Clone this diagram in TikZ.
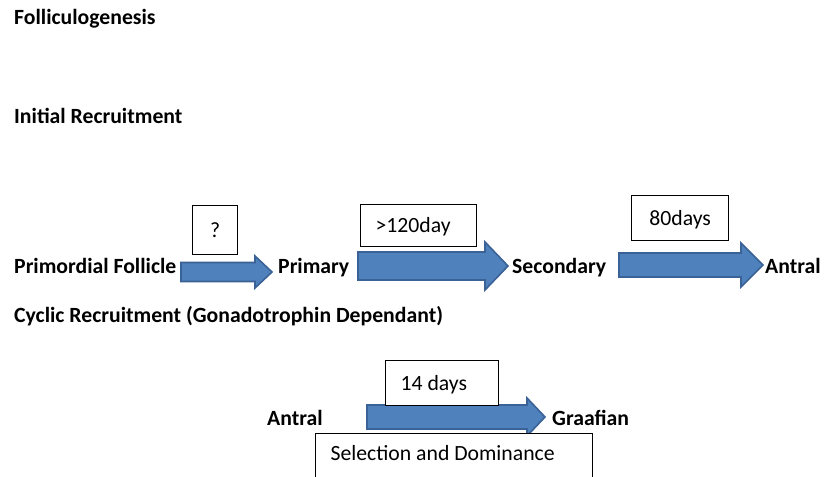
\documentclass[tikz,border=0pt]{standalone}
\usepackage{fontspec}
\setmainfont{Carlito}
\definecolor{arrowfill}{HTML}{4F81BD}
\definecolor{arrowline}{HTML}{3A6296}
\newcommand\blockarr[6]{% x1, xhead, xtip, ycenter, shaft half, head half
  \draw[blockarrow] (#1,{#4-#5}) -- (#2,{#4-#5}) -- (#2,{#4-#6}) -- (#3,#4)
    -- (#2,{#4+#6}) -- (#2,{#4+#5}) -- (#1,{#4+#5}) -- cycle;}
\begin{document}
\begin{tikzpicture}[x=1bp,y=-1bp,
  every node/.style={font=\fontsize{21.8}{25}\selectfont},
  lbl/.style={anchor=base west, inner sep=0pt, font=\fontsize{21.8}{25}\selectfont\bfseries},
  blockarrow/.style={fill=arrowfill, draw=arrowline, line width=1.6bp, line join=miter},
  box/.style={draw=black, fill=white, line width=1.2bp, anchor=north west,
    text height=14bp, text depth=0bp, inner xsep=15bp, inner ysep=0bp},
]
\useasboundingbox (0,0) rectangle (824,477);
\clip (0,0) rectangle (824,477);
\fill[white] (0,0) rectangle (824,477);

\node[lbl] (title) at (14,25) {Folliculogenesis};
\node[lbl] (initrec) at (14,124) {Initial Recruitment};

\node[lbl] (pf) at (14,274) {Primordial Follicle};
\node[lbl] (primary) at (278,274) {Primary};
\node[lbl] (secondary) at (512,274) {Secondary};
\node[lbl] (antral1) at (765,274) {Antral};

\node[lbl] (cyclic) at (14,323) {Cyclic Recruitment (Gonadotrophin Dependant)};

\node[lbl] (antral2) at (267,425) {Antral};
\node[lbl] (graafian) at (552,425) {Graafian};

% block arrows
\blockarr{181}{255}{272}{272}{9.5}{16}
\blockarr{358}{485}{508}{266}{14}{24}
\blockarr{619}{741}{763}{265}{12}{22}
\blockarr{367}{527}{545}{417}{12}{19}

% boxes
\node[box, inner xsep=0pt, minimum width=45bp, minimum height=49bp] (bq) at (192,205) {?};
\node[box, minimum height=42bp] (b120) at (360,204) {\makebox[86bp][l]{>120day}};
\node[box, inner xsep=0pt, minimum width=97bp, minimum height=45bp] (b80) at (631,195) {80days};
\node[box, minimum height=45bp] (b14) at (385,360) {\makebox[83bp][l]{14 days}};
\node[box, text height=15bp, text depth=40bp, inner ysep=12bp] (bsel) at (315,433) {\makebox[247bp][l]{Selection and Dominance}};
\end{tikzpicture}
\end{document}
